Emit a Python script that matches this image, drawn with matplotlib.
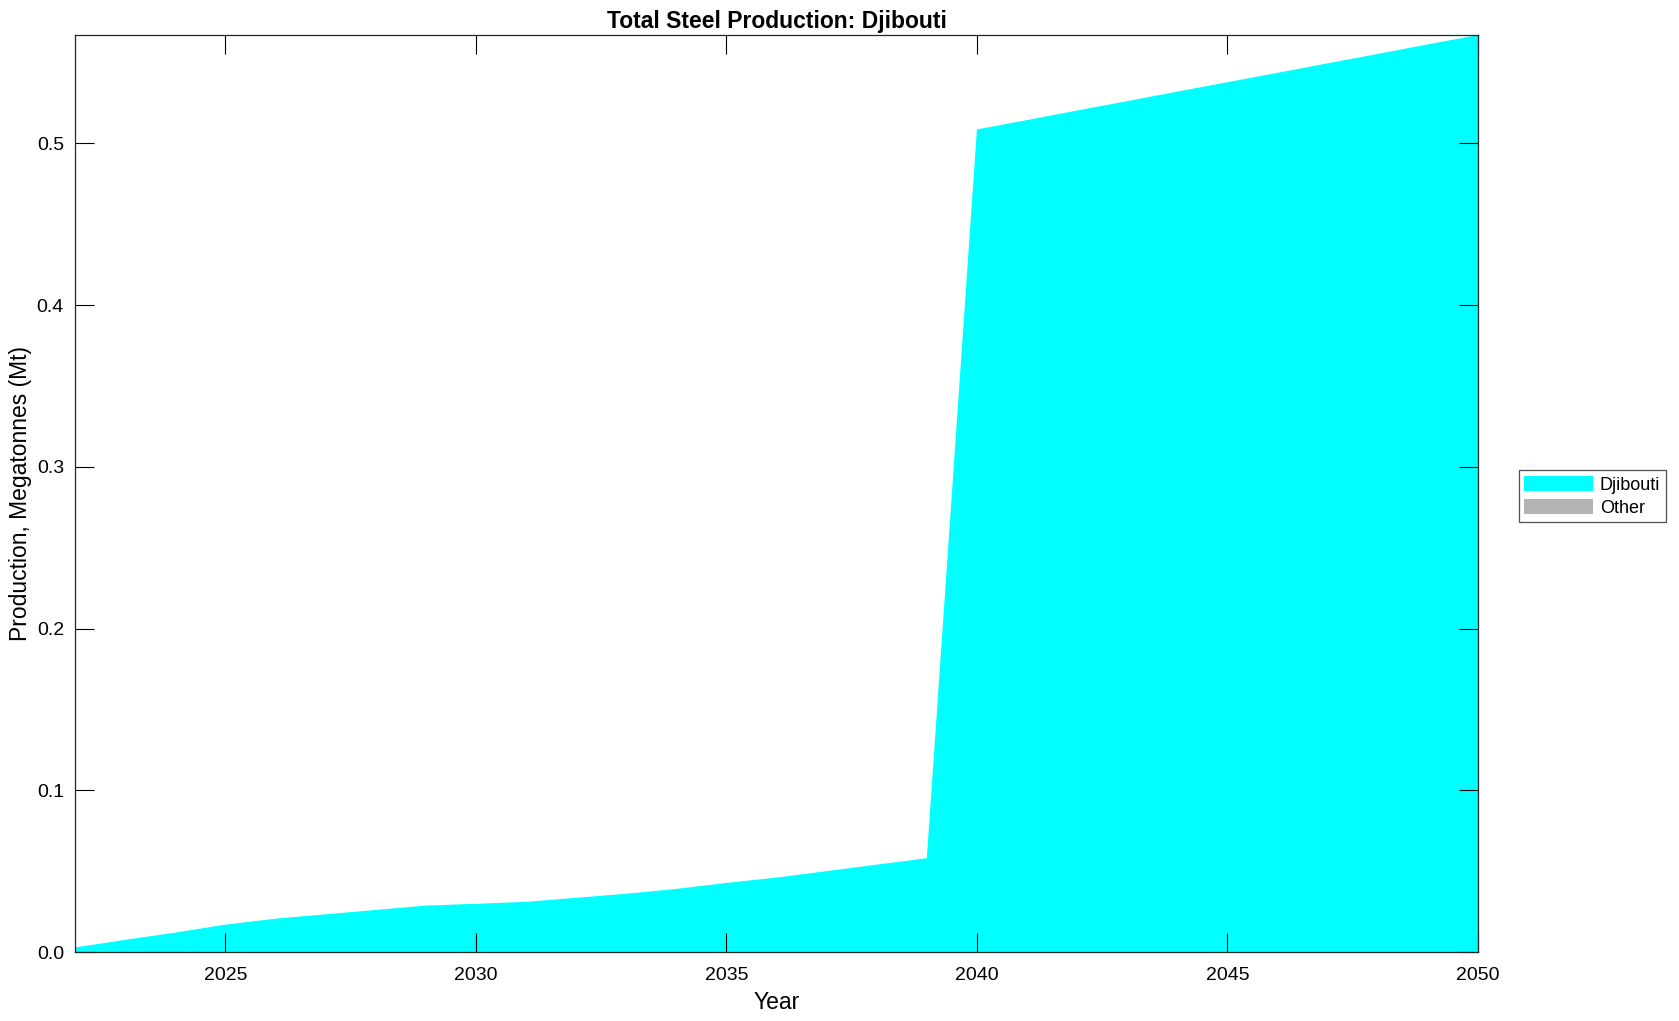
import matplotlib
matplotlib.use("Agg")
from matplotlib import pyplot as plt

plt.rcParams['font.family'] = ['Liberation Sans', 'DejaVu Sans']

# Data
years = list(range(2022, 2051))
djibouti = [0.0028, 0.0075, 0.012, 0.0169, 0.0206, 0.0233, 0.026, 0.0287, 0.0298, 0.031,
            0.0335, 0.036, 0.039, 0.0427, 0.046, 0.050, 0.054, 0.058,
            0.5086, 0.5144, 0.5203, 0.5261, 0.5320, 0.5378, 0.5436, 0.5495, 0.5553, 0.5612, 0.567]
other = [0.0] * len(years)

series_names = ["Djibouti", "Other"]
series_colors = ["#00ffff", "#b3b3b3"]

fig = plt.figure(figsize=(16.79, 10.21), dpi=100)
ax = fig.add_axes([75 / 1679, 1 - 952 / 1021, (1478 - 75) / 1679, (952 - 35) / 1021])

ax.stackplot(years, djibouti, other, labels=series_names, colors=series_colors, linewidth=0)

ax.set_xlim(2022, 2050)
ax.set_ylim(0, max(djibouti))
ax.set_xticks([2025, 2030, 2035, 2040, 2045, 2050])
ax.set_yticks([0.0, 0.1, 0.2, 0.3, 0.4, 0.5])
ax.set_yticklabels(["0.0", "0.1", "0.2", "0.3", "0.4", "0.5"])
ax.tick_params(direction="in", top=True, right=True, length=14, width=0.8, labelsize=14)
ax.tick_params(axis="x", pad=11)
ax.tick_params(axis="y", pad=8)
for s in ax.spines.values():
	s.set_linewidth(0.9)
	s.set_color("#262626")

ax.set_title("Total Steel Production: Djibouti", fontsize=16.5, fontweight="bold", pad=5)
ax.set_xlabel("Year", fontsize=16.5, labelpad=5)
ax.set_ylabel("Production, Megatonnes (Mt)", fontsize=16.5, labelpad=3)

leg = ax.legend(loc="center left", bbox_to_anchor=(1.029, 0.497), fontsize=13, frameon=True,
				fancybox=False, edgecolor="#262626", handlelength=3.8, handleheight=0.9,
				borderpad=0.3, labelspacing=0.3, handletextpad=0.4, borderaxespad=0)
leg.get_frame().set_linewidth(0.9)

plt.savefig("out.png", dpi=100)
